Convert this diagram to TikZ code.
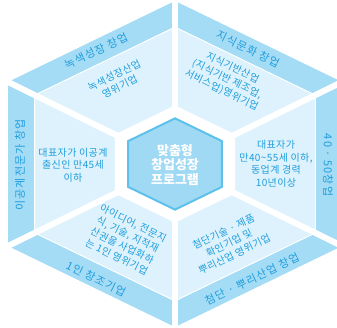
\documentclass[tikz,border=0pt]{standalone}
\usepackage{fontspec}
\newfontfamily\kr{Noto Sans CJK KR}
\newfontfamily\krd[LetterSpace=4]{Noto Sans CJK KR}
\newfontfamily\krt[LetterSpace=10]{Noto Sans CJK KR}
\definecolor{bandc}{HTML}{A4DBF5}
\definecolor{regionc}{HTML}{DDF2FC}
\definecolor{hexfill}{HTML}{A0D9F4}
\definecolor{hexline}{HTML}{5EC1EC}
\definecolor{txtc}{HTML}{1F9EDD}
\newcommand\hexpath{(0,163) -- (167,82) -- (167,-82) -- (0,-163) -- (-167,-82) -- (-167,82) -- cycle}
\begin{document}
\begin{tikzpicture}[x=1pt,y=1pt,
  titletext/.style={font=\krt\fontsize{11}{12}\selectfont, text=txtc, inner sep=0pt},
  desctext/.style={font=\krd\fontsize{10}{12.5}\selectfont, text=txtc, align=center, inner sep=0pt},
  centertext/.style={font=\kr\bfseries\fontsize{13}{14.5}\selectfont, text=white, align=center, inner sep=0pt},
  divider/.style={white, line width=6pt}]
\useasboundingbox (0,0) rectangle (337,328);
\clip (0,0) rectangle (337,328);
\coordinate (C) at (175,164);
\coordinate (vT) at (175,327);
\coordinate (vUR) at (342,246);
\coordinate (vLR) at (342,82);
\coordinate (vB) at (175,1);
\coordinate (vLL) at (8,82);
\coordinate (vUL) at (8,246);
% sectors
\begin{scope}[shift={(175,164)}]
  \fill[bandc] \hexpath;
  \fill[regionc, scale=0.84] \hexpath;
  \draw[white, line width=1pt, scale=0.84] \hexpath;
\end{scope}
% dividers
\foreach \v in {vT,vUR,vLR,vB,vLL,vUL}{\draw[divider] (C) -- (\v);}
% central hexagon
\begin{scope}[shift={(175,164)}]
  \fill[white, scale=0.36] \hexpath;
  \filldraw[fill=hexfill, draw=hexline, line width=2pt, scale=0.28] \hexpath;
\end{scope}
% texts
\node[titletext, rotate=26] (t1) at (96,277) {녹색성장 창업};
\node[desctext, rotate=26] (d1) at (117,247) {녹색성장산업\\영위기업};
\node[titletext, rotate=-26] (t2) at (248,279) {지식문화 창업};
\node[desctext, rotate=-26] (d2) at (227,249) {지식기반산업\\(지식기반 제조업,\\서비스업)영위기업};
\node[titletext, rotate=-90] (t3) at (328,163) {40 · 50창업};
\node[desctext] (d3) at (276,164) {대표자가\\만40\textasciitilde55세 이하,\\동업계 경력\\10년이상};
\node[titletext, rotate=26] (t4) at (252,49) {첨단 · 뿌리산업 창업};
\node[desctext, rotate=26] (d4) at (229,85) {첨단기술 · 제품\\확인기업 및\\뿌리산업 영위기업};
\node[titletext, rotate=-26] (t5) at (96,49) {1인 창조기업};
\node[desctext, rotate=-26] (d5) at (125,88) {아이디어, 전문지\\식, 기술, 지적재\\산권을 사업화하\\는 1인 영위기업};
\node[titletext, rotate=90] (t6) at (20,163) {이공계전문가 창업};
\node[desctext] (d6) at (73,163) {대표자가 이공계\\출신인 만45세\\이하};
\node[centertext] (ctr) at (175,163) {맞춤형\\창업성장\\프로그램};
\end{tikzpicture}
\end{document}
